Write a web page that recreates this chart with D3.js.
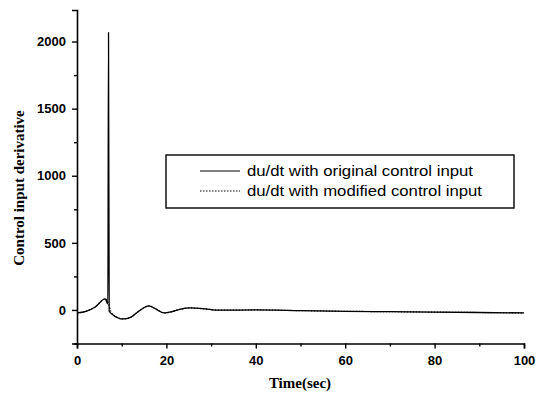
<!DOCTYPE html>
<html>
<head>
<meta charset="utf-8">
<script src="https://cdn.jsdelivr.net/npm/d3@7"></script>
<style>
  body { margin: 0; background: #fff; }
  svg { display: block; }
</style>
</head>
<body>
<svg id="chart" width="540" height="398"></svg>
<script>
// du/dt with original control input (spike at switching time)
const timeOrig = [0, 2, 4, 6.3, 6.9, 7.05, 7.2, 8, 10.3, 12, 14, 16.1, 17.5, 19.5, 21, 23, 25.3, 28, 32, 40, 50, 60, 70, 80, 90, 100];
const valOrig  = [-22, -10, 20, 82, 45, 2067, -10, -35, -67, -55, -5, 30, 10, -22, -15, 5, 15, 10, -2, 0, -5, -10, -13, -16, -19, -22];
// du/dt with modified control input (no spike)
const timeMod = [0, 2, 4, 6.3, 7.0, 7.6, 8, 10.3, 12, 14, 16.1, 17.5, 19.5, 21, 23, 25.3, 28, 32, 40, 50, 60, 70, 80, 90, 100];
const valMod  = [-22, -10, 20, 82, 50, -12, -35, -67, -55, -5, 30, 10, -22, -15, 5, 15, 10, -2, 0, -5, -10, -13, -16, -19, -22];

const xTicks = [0, 20, 40, 60, 80, 100];
const yTicks = [0, 500, 1000, 1500, 2000];
const legendLabels = ['du/dt with original control input', 'du/dt with modified control input'];

const svg = d3.select('#chart');

const x = d3.scaleLinear().domain([0, 100]).range([77, 524]);
const y = d3.scaleLinear().domain([-250, 2235]).range([343.5, 10]);

// axes
svg.append('g')
  .attr('transform', `translate(0,${y(-250)})`)
  .call(d3.axisBottom(x).tickValues(xTicks).tickSize(5).tickPadding(7).tickFormat(d3.format('d')));
svg.append('g')
  .attr('transform', `translate(0,${y(-250)})`)
  .call(d3.axisBottom(x).tickValues(d3.range(10, 100, 20)).tickSize(3).tickFormat(''))
  .select('.domain').remove();

svg.append('g')
  .attr('transform', `translate(${x(0)},0)`)
  .call(d3.axisLeft(y).tickValues(yTicks).tickSize(5).tickPadding(6).tickFormat(d3.format('d')));
svg.append('g')
  .attr('transform', `translate(${x(0)},0)`)
  .call(d3.axisLeft(y).tickValues([-250, 250, 750, 1250, 1750]).tickSize(3).tickFormat(''))
  .select('.domain').remove();

svg.selectAll('.domain').attr('stroke', '#000').attr('stroke-width', 1.6);
svg.selectAll('.tick line').attr('stroke', '#000').attr('stroke-width', 1.4);
svg.selectAll('.tick text')
  .attr('fill', '#000')
  .style('font-family', '"Liberation Sans", Arial, sans-serif')
  .style('font-size', '13px')
  .style('font-weight', 'bold');

// series
const line = d3.line()
  .x(d => x(d[0]))
  .y(d => y(d[1]))
  .curve(d3.curveMonotoneX);

svg.append('path')
  .datum(d3.zip(timeMod, valMod))
  .attr('fill', 'none')
  .attr('stroke', '#000')
  .attr('stroke-width', 1.2)
  .attr('stroke-dasharray', '1.5,1.5')
  .attr('d', line);

svg.append('path')
  .datum(d3.zip(timeOrig, valOrig))
  .attr('fill', 'none')
  .attr('stroke', '#000')
  .attr('stroke-width', 1.3)
  .attr('d', line);

// legend
const lg = svg.append('g');
lg.append('rect')
  .attr('x', 166).attr('y', 155)
  .attr('width', 348).attr('height', 53)
  .attr('fill', '#fff')
  .attr('stroke', '#000')
  .attr('stroke-width', 1.4);

const legendWidths = [226, 235];
legendLabels.forEach((lab, i) => {
  const ly = 171 + i * 20;
  lg.append('line')
    .attr('x1', 200).attr('x2', 240)
    .attr('y1', ly).attr('y2', ly)
    .attr('stroke', '#000')
    .attr('stroke-width', 1)
    .attr('stroke-dasharray', i === 0 ? null : '1.5,1.5');
  lg.append('text')
    .attr('x', 247).attr('y', ly + 5)
    .attr('textLength', legendWidths[i])
    .attr('lengthAdjust', 'spacingAndGlyphs')
    .style('font-family', '"Liberation Sans", Arial, sans-serif')
    .style('font-size', '15px')
    .text(lab);
});

// axis titles
svg.append('text')
  .attr('x', 300).attr('y', 388)
  .attr('text-anchor', 'middle')
  .style('font-family', '"Liberation Serif", "Times New Roman", serif')
  .style('font-size', '15px')
  .style('font-weight', 'bold')
  .text('Time(sec)');

svg.append('text')
  .attr('transform', 'translate(24,188) rotate(-90)')
  .attr('text-anchor', 'middle')
  .style('font-family', '"Liberation Serif", "Times New Roman", serif')
  .style('font-size', '15px')
  .style('font-weight', 'bold')
  .text('Control input derivative');
</script>
</body>
</html>
